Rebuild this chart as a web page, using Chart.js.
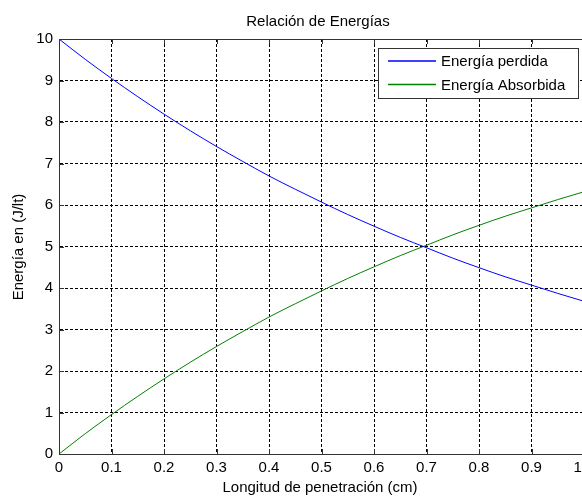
<!DOCTYPE html>
<html>
<head>
<meta charset="utf-8">
<script src="https://cdn.jsdelivr.net/npm/chart.js@4"></script>
<style>
  body { margin: 0; overflow: hidden; background: #fff; }
  #wrap { width: 582px; height: 497px; overflow: hidden; }
</style>
</head>
<body>
<div id="wrap"><canvas id="chart" width="600" height="497"></canvas></div>
<script>
// values
const longitud = [0, 0.05, 0.1, 0.15, 0.2, 0.25, 0.3, 0.35, 0.4, 0.45, 0.5,
  0.55, 0.6, 0.65, 0.7, 0.75, 0.8, 0.85, 0.9, 0.95, 1];
const perdida = [10, 9.51, 9.05, 8.61, 8.19, 7.79, 7.41, 7.05, 6.7, 6.38, 6.07,
  5.77, 5.49, 5.22, 4.97, 4.72, 4.49, 4.27, 4.07, 3.87, 3.68];
const absorbida = [0, 0.49, 0.95, 1.39, 1.81, 2.21, 2.59, 2.95, 3.3, 3.62, 3.93,
  4.23, 4.51, 4.78, 5.03, 5.28, 5.51, 5.73, 5.93, 6.13, 6.32];
const seriesNames = ["Energía perdida", "Energía Absorbida"];
const seriesColors = ["#0000ff", "#008000"];

const FONT = "Liberation Sans, Arial, sans-serif";

const toPoints = (ys) => longitud.map((x, i) => ({ x: x, y: ys[i] }));

// title, axis titles, box top line, inner ticks, legend
const decor = {
  id: "decor",
  afterDraw(chart) {
    const ctx = chart.ctx;
    const a = chart.chartArea;
    const xs = chart.scales.x, ys = chart.scales.y;
    ctx.save();
    ctx.setLineDash([]);
    ctx.fillStyle = "#000";
    ctx.font = "15px " + FONT;
    ctx.textAlign = "center";
    ctx.textBaseline = "middle";
    ctx.fillText("Relación de Energías", 318, 22);
    ctx.fillText("Longitud de penetración (cm)", 320, 488);
    ctx.save();
    ctx.translate(19, 247);
    ctx.rotate(-Math.PI / 2);
    ctx.fillText("Energía en (J/lt)", 0, 0);
    ctx.restore();

    ctx.strokeStyle = "#333";
    ctx.lineWidth = 1;
    ctx.beginPath();
    ctx.moveTo(a.left, a.top + 0.5);
    ctx.lineTo(a.right, a.top + 0.5);
    xs.ticks.forEach((t) => {
      const px = Math.round(xs.getPixelForValue(t.value)) + 0.5;
      ctx.moveTo(px, a.bottom);
      ctx.lineTo(px, a.bottom - 5);
      ctx.moveTo(px, a.top);
      ctx.lineTo(px, a.top + 5);
    });
    ys.ticks.forEach((t) => {
      const py = Math.round(ys.getPixelForValue(t.value)) + 0.5;
      ctx.moveTo(a.left, py);
      ctx.lineTo(a.left + 5, py);
    });
    ctx.stroke();

    // legend box
    const lx = 378, ly = 48, lw = 200, lh = 50;
    ctx.fillStyle = "#fff";
    ctx.fillRect(lx, ly, lw, lh);
    ctx.strokeStyle = "#333";
    ctx.strokeRect(lx + 0.5, ly + 0.5, lw, lh);
    ctx.textAlign = "left";
    seriesNames.forEach((name, i) => {
      const y = 61 + i * 23.5;
      ctx.strokeStyle = seriesColors[i];
      ctx.lineWidth = 1.3;
      ctx.beginPath();
      ctx.moveTo(388, y);
      ctx.lineTo(436, y);
      ctx.stroke();
      ctx.fillStyle = "#000";
      ctx.fillText(name, 441, y + 1);
    });
    ctx.restore();
  },
};

new Chart(document.getElementById("chart"), {
  type: "line",
  data: {
    datasets: [
      {
        label: seriesNames[0],
        data: toPoints(perdida),
        borderColor: seriesColors[0],
        borderWidth: 1,
        pointRadius: 0,
        cubicInterpolationMode: "monotone",
      },
      {
        label: seriesNames[1],
        data: toPoints(absorbida),
        borderColor: seriesColors[1],
        borderWidth: 1,
        pointRadius: 0,
        cubicInterpolationMode: "monotone",
      },
    ],
  },
  options: {
    responsive: false,
    animation: false,
    layout: { padding: { left: 0, top: 39, right: 16, bottom: 0 } },
    plugins: { legend: { display: false }, title: { display: false }, tooltip: { enabled: false } },
    scales: {
      x: {
        type: "linear",
        min: 0,
        max: 1,
        afterFit: (s) => { s.height = 43; },
        ticks: { stepSize: 0.1, maxRotation: 0, padding: 5, color: "#000", font: { family: FONT, size: 15 } },
        grid: { color: "#000", drawTicks: false },
        border: { color: "#333", dash: [3, 2] },
      },
      y: {
        min: 0,
        max: 10,
        afterFit: (s) => { s.width = 59; },
        ticks: { stepSize: 1, padding: 6, color: "#000", font: { family: FONT, size: 15 } },
        grid: { color: "#000", drawTicks: false },
        border: { color: "#333", dash: [3, 2] },
      },
    },
  },
  plugins: [decor],
});
</script>
</body>
</html>
